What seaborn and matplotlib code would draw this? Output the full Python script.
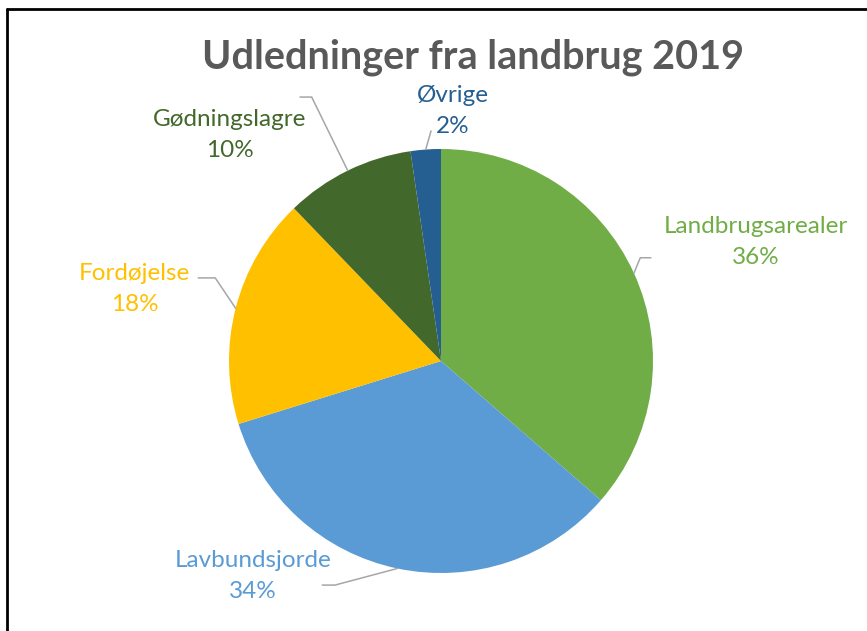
import numpy as np
import matplotlib.pyplot as plt
import seaborn as sns
from matplotlib.lines import Line2D

# data (share of emissions, %)
categories = ["Landbrugsarealer", "Lavbundsjorde", "Fordøjelse", "Gødningslagre", "Øvrige"]
shares = [36.4, 33.8, 17.6, 9.9, 2.3]
colors = ["#70AD47", "#5B9BD5", "#FFC000", "#43682B", "#255E91"]
title = "Udledninger fra landbrug 2019"

# label placement: (text x, text y, elbow x, elbow y, line end x) in pie units
label_pos = [
    (1.485, 0.560, 0.94, 0.487, 0.99),
    (-0.887, -1.016, -0.500, -1.057, -0.560),
    (-1.444, 0.340, -1.065, 0.392, -1.145),
    (-0.995, 1.065, -0.610, 1.245, -0.665),
    (0.057, 1.180, -0.047, 1.085, -0.047),
]

sns.set_theme(style="white")
plt.rcParams["font.family"] = ["Lato", "DejaVu Sans"]

fig = plt.figure(figsize=(8.67, 6.31), dpi=100)
ax = fig.add_axes([0, 0, 1, 1])

wedges, _ = ax.pie(shares, colors=sns.color_palette(colors), startangle=90,
                   counterclock=False, radius=1.0,
                   wedgeprops=dict(linewidth=0))

ax.set_aspect("auto")
ax.set_xlim(-441 / 212, (867 - 441) / 212)
ax.set_ylim((361 - 631) / 212, 361 / 212)
ax.axis("off")

for w, name, val, col, (tx, ty, ex, ey, lx) in zip(wedges, categories, shares, colors, label_pos):
    mid = np.deg2rad((w.theta1 + w.theta2) / 2)
    sx, sy = np.cos(mid), np.sin(mid)
    if name == "Øvrige":
        ax.plot([sx, ex], [sy, ey], color="#A6A6A6", lw=1.1)
    else:
        ax.plot([sx, ex, lx], [sy, ey, ey], color="#A6A6A6", lw=1.1)
    ax.text(tx, ty, f"{name}\n{val:.0f}%", color=col, fontsize=17.5,
            ha="center", va="center", linespacing=1.6)

fig.text(0.546, 0.909, title, ha="center", va="center", fontsize=28.5,
         fontweight="bold", color="#595959")

# frame lines on top and left edge, as in the source image
fig.add_artist(Line2D([6.5 / 867, 1], [1 - 8.5 / 631, 1 - 8.5 / 631],
                      transform=fig.transFigure, color="black", lw=2))
fig.add_artist(Line2D([6.5 / 867, 6.5 / 867], [0, 1 - 8.5 / 631],
                      transform=fig.transFigure, color="black", lw=2))

fig.savefig("out.png", dpi=100)
